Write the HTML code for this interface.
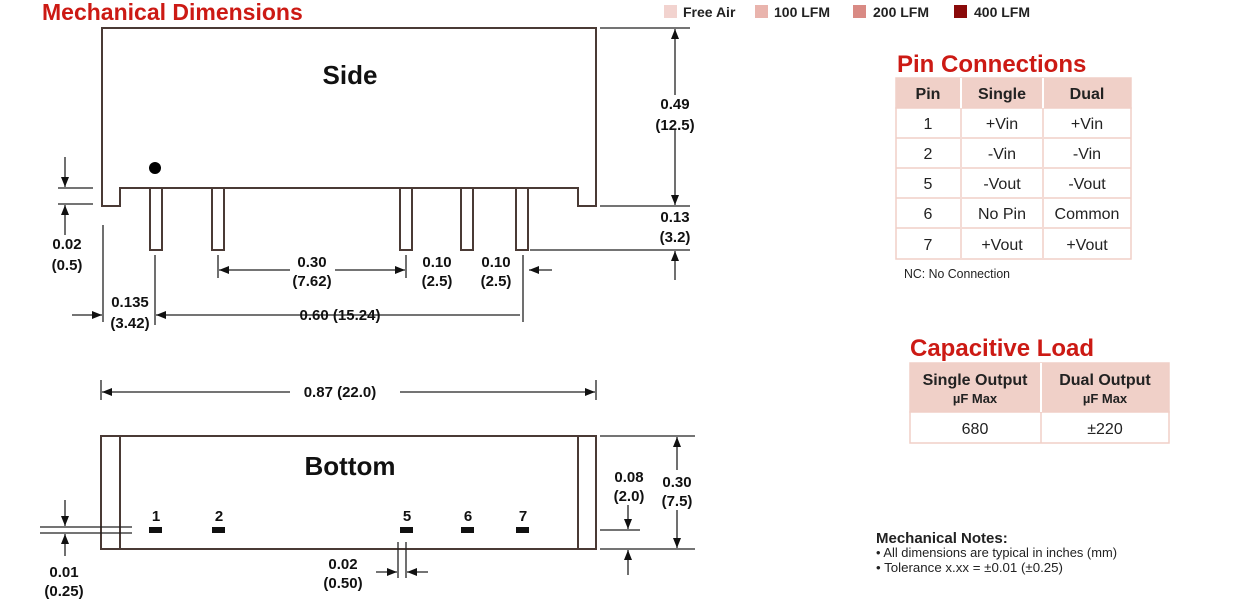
<!DOCTYPE html>
<html><head><meta charset="utf-8"><style>
html,body{margin:0;padding:0;background:#fff;width:1239px;height:606px;overflow:hidden}
svg{display:block}
text{font-family:"Liberation Sans",Arial,sans-serif}
.d{font-size:15px;font-weight:bold;fill:#111;text-anchor:middle}
.t{font-size:16px;fill:#222;text-anchor:middle}
.h{font-size:16px;font-weight:bold;fill:#222;text-anchor:middle}
.r{font-size:24px;font-weight:bold;fill:#cc1a14}
</style></head><body>
<svg width="1239" height="606" viewBox="0 0 1239 606" xmlns="http://www.w3.org/2000/svg">
<defs><marker id="a" viewBox="0 0 10 10" refX="10" refY="5" markerWidth="10" markerHeight="10" markerUnits="userSpaceOnUse" orient="auto"><path d="M0,1 L10,5 L0,9z" fill="#111"/></marker></defs>
<text x="42" y="20" class="r" style="font-size:23px">Mechanical Dimensions</text>
<g font-size="14" font-weight="bold" fill="#222">
<rect x="664" y="5" width="13" height="13" fill="#f2d3cf"/><text x="683" y="17">Free Air</text>
<rect x="755" y="5" width="13" height="13" fill="#e9b4ad"/><text x="774" y="17">100 LFM</text>
<rect x="853" y="5" width="13" height="13" fill="#d98a84"/><text x="873" y="17">200 LFM</text>
<rect x="954" y="5" width="13" height="13" fill="#8a0a0a"/><text x="974" y="17">400 LFM</text>
</g>
<g stroke="#4a3a35" stroke-width="2" fill="none">
<path d="M102,28 L102,206 L120,206 L120,188 L578,188 L578,206 L596,206 L596,28 Z" fill="#fff"/>
<rect x="150" y="188" width="12" height="62"/><rect x="212" y="188" width="12" height="62"/><rect x="400" y="188" width="12" height="62"/><rect x="461" y="188" width="12" height="62"/><rect x="516" y="188" width="12" height="62"/>
<rect x="101" y="436" width="495" height="113"/>
<line x1="120" y1="436" x2="120" y2="549"/><line x1="578" y1="436" x2="578" y2="549"/>
</g>
<circle cx="155" cy="168" r="6" fill="#000"/>
<text x="350" y="84" class="d" style="font-size:26px">Side</text>
<text x="350" y="475" class="d" style="font-size:26px">Bottom</text>
<g fill="#111"><rect x="149" y="527" width="13" height="6"/><rect x="212" y="527" width="13" height="6"/><rect x="400" y="527" width="13" height="6"/><rect x="461" y="527" width="13" height="6"/><rect x="516" y="527" width="13" height="6"/></g>
<g class="d"><text x="156" y="521">1</text><text x="219" y="521">2</text><text x="407" y="521">5</text><text x="468" y="521">6</text><text x="523" y="521">7</text></g>
<g stroke="#222" stroke-width="1.3" fill="none">
<line x1="600" y1="28" x2="690" y2="28"/><line x1="600" y1="206" x2="690" y2="206"/><line x1="530" y1="250" x2="690" y2="250"/>
<line x1="675" y1="95" x2="675" y2="29" marker-end="url(#a)"/><line x1="675" y1="130" x2="675" y2="205" marker-end="url(#a)"/>
<line x1="675" y1="280" x2="675" y2="251" marker-end="url(#a)"/>
<line x1="58" y1="188" x2="93" y2="188"/><line x1="58" y1="204" x2="93" y2="204"/>
<line x1="65" y1="157" x2="65" y2="187" marker-end="url(#a)"/><line x1="65" y1="235" x2="65" y2="205" marker-end="url(#a)"/>
<line x1="218" y1="255" x2="218" y2="278"/><line x1="406" y1="255" x2="406" y2="278"/>
<line x1="290" y1="270" x2="219" y2="270" marker-end="url(#a)"/><line x1="335" y1="270" x2="405" y2="270" marker-end="url(#a)"/>
<line x1="552" y1="270" x2="529" y2="270" marker-end="url(#a)"/>
<line x1="103" y1="225" x2="103" y2="322"/><line x1="155" y1="255" x2="155" y2="325"/><line x1="523" y1="255" x2="523" y2="322"/>
<line x1="72" y1="315" x2="102" y2="315" marker-end="url(#a)"/><line x1="520" y1="315" x2="156" y2="315" marker-end="url(#a)"/>
<line x1="101" y1="380" x2="101" y2="400"/><line x1="596" y1="380" x2="596" y2="400"/>
<line x1="290" y1="392" x2="102" y2="392" marker-end="url(#a)"/><line x1="400" y1="392" x2="595" y2="392" marker-end="url(#a)"/>
<line x1="40" y1="527" x2="132" y2="527"/><line x1="40" y1="533" x2="132" y2="533"/>
<line x1="65" y1="500" x2="65" y2="526" marker-end="url(#a)"/><line x1="65" y1="556" x2="65" y2="534" marker-end="url(#a)"/>
<line x1="398" y1="542" x2="398" y2="578"/><line x1="406" y1="542" x2="406" y2="578"/>
<line x1="376" y1="572" x2="397" y2="572" marker-end="url(#a)"/><line x1="428" y1="572" x2="407" y2="572" marker-end="url(#a)"/>
<line x1="600" y1="436" x2="695" y2="436"/><line x1="600" y1="549" x2="695" y2="549"/><line x1="600" y1="530" x2="640" y2="530"/>
<line x1="677" y1="470" x2="677" y2="437" marker-end="url(#a)"/><line x1="677" y1="510" x2="677" y2="548" marker-end="url(#a)"/>
<line x1="628" y1="505" x2="628" y2="529" marker-end="url(#a)"/><line x1="628" y1="575" x2="628" y2="550" marker-end="url(#a)"/>
</g>
<g class="d">
<text x="675" y="109">0.49</text><text x="675" y="130">(12.5)</text>
<text x="675" y="222">0.13</text><text x="675" y="242">(3.2)</text>
<text x="67" y="249">0.02</text><text x="67" y="270">(0.5)</text>
<text x="312" y="267">0.30</text><text x="312" y="286">(7.62)</text>
<text x="437" y="267">0.10</text><text x="437" y="286">(2.5)</text>
<text x="496" y="267">0.10</text><text x="496" y="286">(2.5)</text>
<text x="130" y="307">0.135</text><text x="130" y="328">(3.42)</text>
<text x="340" y="320">0.60 (15.24)</text>
<text x="340" y="397">0.87 (22.0)</text>
<text x="64" y="577">0.01</text><text x="64" y="596">(0.25)</text>
<text x="343" y="569">0.02</text><text x="343" y="588">(0.50)</text>
<text x="629" y="482">0.08</text><text x="629" y="501">(2.0)</text>
<text x="677" y="487">0.30</text><text x="677" y="506">(7.5)</text>
</g>
<text x="897" y="72" class="r">Pin Connections</text>
<g stroke="#f0cfc7" stroke-width="1.5">
<rect x="896" y="78" width="235" height="30" fill="#f0d0c8"/>
<rect x="896" y="108" width="235" height="151" fill="#fff"/>
<line x1="896" y1="138" x2="1131" y2="138"/><line x1="896" y1="168" x2="1131" y2="168"/><line x1="896" y1="198" x2="1131" y2="198"/><line x1="896" y1="228" x2="1131" y2="228"/>
<line x1="961" y1="78" x2="961" y2="259" stroke="#fff" stroke-width="2"/><line x1="961" y1="108" x2="961" y2="259"/>
<line x1="1043" y1="78" x2="1043" y2="259" stroke="#fff" stroke-width="2"/><line x1="1043" y1="108" x2="1043" y2="259"/>
</g>
<g class="h"><text x="928" y="99">Pin</text><text x="1002" y="99">Single</text><text x="1087" y="99">Dual</text></g>
<g class="t">
<text x="928" y="129">1</text><text x="1002" y="129">+Vin</text><text x="1087" y="129">+Vin</text>
<text x="928" y="159">2</text><text x="1002" y="159">-Vin</text><text x="1087" y="159">-Vin</text>
<text x="928" y="189">5</text><text x="1002" y="189">-Vout</text><text x="1087" y="189">-Vout</text>
<text x="928" y="219">6</text><text x="1002" y="219">No Pin</text><text x="1087" y="219">Common</text>
<text x="928" y="250">7</text><text x="1002" y="250">+Vout</text><text x="1087" y="250">+Vout</text>
</g>
<text x="904" y="278" font-size="13" fill="#222" textLength="106" lengthAdjust="spacingAndGlyphs">NC: No Connection</text>
<text x="910" y="356" class="r">Capacitive Load</text>
<g stroke="#f0cfc7" stroke-width="1.5">
<rect x="910" y="363" width="259" height="49" fill="#f0d0c8"/>
<rect x="910" y="412" width="259" height="31" fill="#fff"/>
<line x1="1041" y1="363" x2="1041" y2="412" stroke="#fff" stroke-width="2"/><line x1="1041" y1="412" x2="1041" y2="443"/>
</g>
<g class="h"><text x="975" y="385">Single Output</text><text x="1105" y="385">Dual Output</text>
<text x="975" y="403" style="font-size:13px">µF Max</text><text x="1105" y="403" style="font-size:13px">µF Max</text></g>
<g class="t"><text x="975" y="434">680</text><text x="1105" y="434">±220</text></g>
<text x="876" y="543" font-size="15" font-weight="bold" fill="#222">Mechanical Notes:</text>
<text x="876" y="557" font-size="12.5" fill="#222" textLength="241" lengthAdjust="spacingAndGlyphs">• All dimensions are typical in inches (mm)</text>
<text x="876" y="572" font-size="12.5" fill="#222" textLength="187" lengthAdjust="spacingAndGlyphs">• Tolerance x.xx = ±0.01 (±0.25)</text>
</svg>
</body></html>
